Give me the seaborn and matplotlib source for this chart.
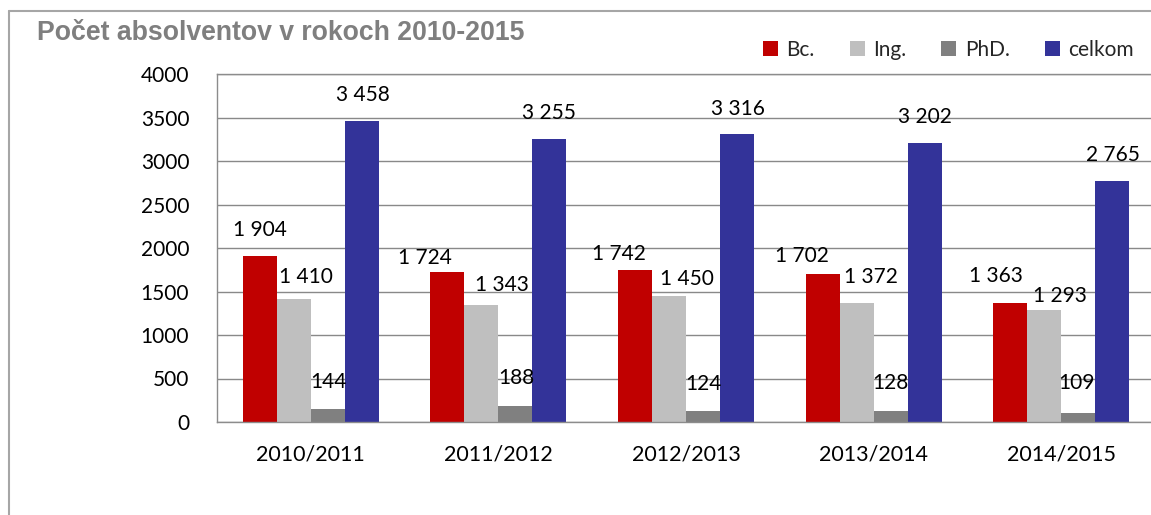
import matplotlib
matplotlib.use("Agg")
import matplotlib.pyplot as plt
import seaborn as sns
import pandas as pd
from matplotlib.patches import Patch
from matplotlib.lines import Line2D

# ---- data ----
years = ["2010/2011", "2011/2012", "2012/2013", "2013/2014", "2014/2015"]
series = ["Bc.", "Ing.", "PhD.", "celkom"]
bc = [1904, 1724, 1742, 1702, 1363]
ing = [1410, 1343, 1450, 1372, 1293]
phd = [144, 188, 124, 128, 109]
celkom = [3458, 3255, 3316, 3202, 2765]
title = "Počet absolventov v rokoch 2010-2015"
yticks = [0, 500, 1000, 1500, 2000, 2500, 3000, 3500, 4000]

colors = ["#C00000", "#BFBFBF", "#808080", "#333399"]

# label offsets (pixels) relative to bar-top center, per series per group
label_dx = [
    [0, -22, -16, -21, -14],
    [12, 21, 18, 14, 16],
    [1, 1, 0, 0, -2],
    [1, 0, 1, 0, 1],
]
label_dy = [
    [26, 14, 16, 18, 27],
    [22, 20, 17, 26, 14],
    [27, 28, 27, 28, 30],
    [26, 26, 25, 26, 26],
]

values = [bc, ing, phd, celkom]
rows = []
for s, vals in zip(series, values):
    for y, v in zip(years, vals):
        rows.append({"rok": y, "typ": s, "pocet": v})
df = pd.DataFrame(rows)

sns.set_theme(style="white")
plt.rcParams["font.family"] = ["Lato", "DejaVu Sans"]

W, H = 1151, 515
fig = plt.figure(figsize=(W / 100, H / 100), dpi=100)
ax = fig.add_axes([217 / W, 1 - 422 / H, (1155 - 217) / W, (422 - 74) / H])

sns.barplot(data=df, x="rok", y="pocet", hue="typ", order=years,
            hue_order=series, palette=colors, width=0.725, gap=0,
            saturation=1, errorbar=None, ax=ax, linewidth=0,
            legend=True)

ax.set_xlim(-0.5, 4.5)
ax.set_ylim(0, 4000)
ax.set_yticks(yticks)
ax.set_yticklabels([str(t) for t in yticks])
ax.set_xlabel("")
ax.set_ylabel("")
ax.grid(axis="y", color="#898989", linewidth=1.0)
ax.set_axisbelow(True)
for sp in ["left", "top", "bottom", "right"]:
    ax.spines[sp].set_color("#8c8c8c")
    ax.spines[sp].set_linewidth(1.0)
ax.tick_params(axis="y", length=0, pad=20, labelsize=15, colors="black")
ax.tick_params(axis="x", length=0, pad=16, labelsize=15.5, colors="black")

# data labels
for si, cont in enumerate(ax.containers):
    for gi, bar in enumerate(cont):
        v = values[si][gi]
        xc = bar.get_x() + bar.get_width() / 2
        ax.annotate(f"{v:,}".replace(",", " "), (xc, bar.get_height()),
                    xytext=(label_dx[si][gi], label_dy[si][gi]),
                    textcoords="offset pixels", ha="center", va="center",
                    fontsize=15, color="black")

# legend
if ax.get_legend() is not None:
    ax.get_legend().remove()
handles = [Patch(facecolor=c, edgecolor="none") for c in colors]
fig.legend(handles, series, loc="center right",
           bbox_to_anchor=(1134 / W, 1 - 50 / H), ncol=4, frameon=False,
           fontsize=15, handlelength=0.72, handleheight=0.72,
           handletextpad=0.4, columnspacing=1.7, borderpad=0,
           borderaxespad=0)

# title
fig.text(37 / W, 1 - 33 / H, title, fontsize=19.2, fontweight="bold",
         color="#7f7f7f", family=["Liberation Sans", "DejaVu Sans"],
         ha="left", va="center")

# outer chart frame (left and top edges)
fig.add_artist(Line2D([8.5 / W, 8.5 / W], [0, 1 - 10.5 / H],
                      transform=fig.transFigure, color="#a6a6a6", lw=1.5))
fig.add_artist(Line2D([8.5 / W, 1], [1 - 10.5 / H, 1 - 10.5 / H],
                      transform=fig.transFigure, color="#a6a6a6", lw=1.5))

fig.savefig("out.png", dpi=100)
